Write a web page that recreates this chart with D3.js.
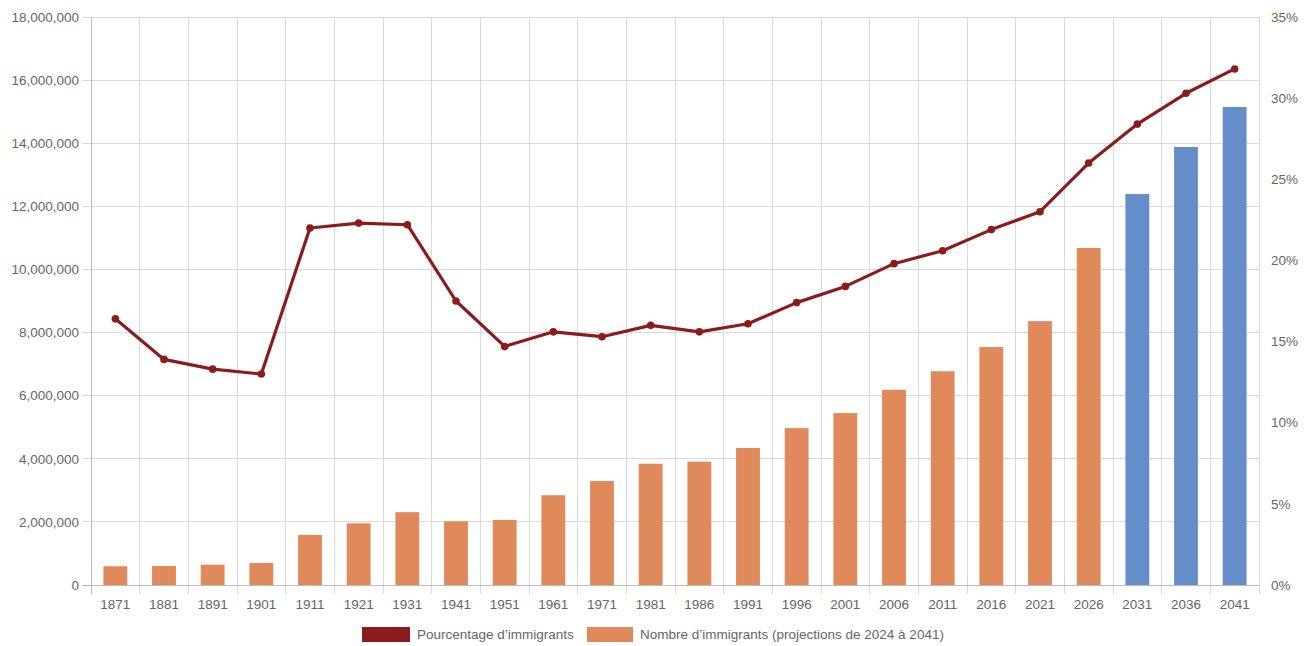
<!DOCTYPE html>
<html><head><meta charset="utf-8">
<script src="https://cdn.jsdelivr.net/npm/d3@7"></script>
<style>
html,body{margin:0;padding:0;background:#fff;}
text{font-family:"Liberation Sans",Arial,sans-serif;}
</style></head>
<body><svg id="c" width="1310" height="646"></svg>
<script>
const years = ["1871","1881","1891","1901","1911","1921","1931","1941","1951","1961","1971","1981","1986","1991","1996","2001","2006","2011","2016","2021","2026","2031","2036","2041"];
const immigrants = [594207,602984,643871,699500,1586961,1955725,2307525,2018847,2059911,2844263,3295530,3843335,3908150,4342890,4971070,5448480,6186950,6775765,7540830,8361505,10680000,12390000,13880000,15150000];
const percentages = [16.4,13.9,13.3,13.0,22.0,22.3,22.2,17.5,14.7,15.6,15.3,16.0,15.6,16.1,17.4,18.4,19.8,20.6,21.9,23.0,26.0,28.4,30.3,31.8];
const projected = [false,false,false,false,false,false,false,false,false,false,false,false,false,false,false,false,false,false,false,false,false,true,true,true];
const leftTicks = [0,2000000,4000000,6000000,8000000,10000000,12000000,14000000,16000000,18000000];
const rightTicks = [0,5,10,15,20,25,30,35];
const legendLabels = ["Pourcentage d’immigrants","Nombre d’immigrants (projections de 2024 à 2041)"];

const colBar = "#E0895A", colBlue = "#658DC8", colLine = "#8C1C1C", colText = "#666", colGrid = "#d9d9d9";
const FS = 13.5;
const svg = d3.select("#c");
const L = 91, R = 1259, T = 17, B = 585;

const x = d3.scaleBand().domain(years).range([L, R]).paddingInner(0).paddingOuter(0);
const yL = d3.scaleLinear().domain([0, 18000000]).range([B, T]);
const yR = d3.scaleLinear().domain([0, 35]).range([B, T]);

svg.append("g").selectAll("line").data(leftTicks).join("line")
  .attr("x1", L - 9).attr("x2", R).attr("y1", d => yL(d)).attr("y2", d => yL(d))
  .attr("stroke", colGrid).attr("stroke-width", 1).attr("shape-rendering","crispEdges");
const vx = years.map(d => x(d)).concat([R]);
svg.append("g").selectAll("line").data(vx).join("line")
  .attr("x1", d => d).attr("x2", d => d).attr("y1", T).attr("y2", B + 9)
  .attr("stroke", colGrid).attr("stroke-width", 1).attr("shape-rendering","crispEdges");
svg.append("line").attr("x1", L).attr("x2", L).attr("y1", T).attr("y2", B+9)
  .attr("stroke", "#bbb").attr("shape-rendering","crispEdges");
svg.append("line").attr("x1", L-9).attr("x2", R).attr("y1", B).attr("y2", B)
  .attr("stroke", "#bbb").attr("shape-rendering","crispEdges");

svg.append("g").selectAll("text").data(leftTicks).join("text")
  .attr("x", 79).attr("y", d => yL(d)).attr("dy", "0.35em").attr("text-anchor", "end")
  .attr("font-size", FS).attr("fill", colText).text(d => d3.format(",")(d));
svg.append("g").selectAll("text").data(rightTicks).join("text")
  .attr("x", 1271).attr("y", d => yR(d)).attr("dy", "0.35em").attr("text-anchor", "start")
  .attr("font-size", FS).attr("fill", colText).text(d => d + "%");
svg.append("g").selectAll("text").data(years).join("text")
  .attr("x", d => x(d) + x.bandwidth()/2).attr("y", 604).attr("dy", "0.35em").attr("text-anchor", "middle")
  .attr("font-size", FS).attr("fill", colText).text(d => d);

const bw = x.bandwidth() * 0.49;
svg.append("g").selectAll("rect").data(years).join("rect")
  .attr("x", d => x(d) + (x.bandwidth() - bw)/2).attr("width", bw)
  .attr("y", (d,i) => yL(immigrants[i])).attr("height", (d,i) => B - yL(immigrants[i]))
  .attr("fill", (d,i) => projected[i] ? colBlue : colBar);

const line = d3.line().x((d,i) => x(years[i]) + x.bandwidth()/2).y(d => yR(d));
svg.append("path").datum(percentages).attr("d", line).attr("fill", "none")
  .attr("stroke", colLine).attr("stroke-width", 3.2).attr("stroke-linejoin","round");
svg.append("g").selectAll("circle").data(percentages).join("circle")
  .attr("cx", (d,i) => x(years[i]) + x.bandwidth()/2).attr("cy", d => yR(d)).attr("r", 3.8)
  .attr("fill", colLine);

const lg = svg.append("g");
lg.append("rect").attr("x", 362).attr("y", 627).attr("width", 48).attr("height", 15).attr("fill", colLine);
lg.append("text").attr("x", 417).attr("y", 634.5).attr("dy","0.35em").attr("font-size", FS).attr("fill", colText).text(legendLabels[0]);
lg.append("rect").attr("x", 587).attr("y", 627).attr("width", 46).attr("height", 15).attr("fill", colBar);
lg.append("text").attr("x", 640).attr("y", 634.5).attr("dy","0.35em").attr("font-size", FS).attr("fill", colText).text(legendLabels[1]);
</script></body></html>
